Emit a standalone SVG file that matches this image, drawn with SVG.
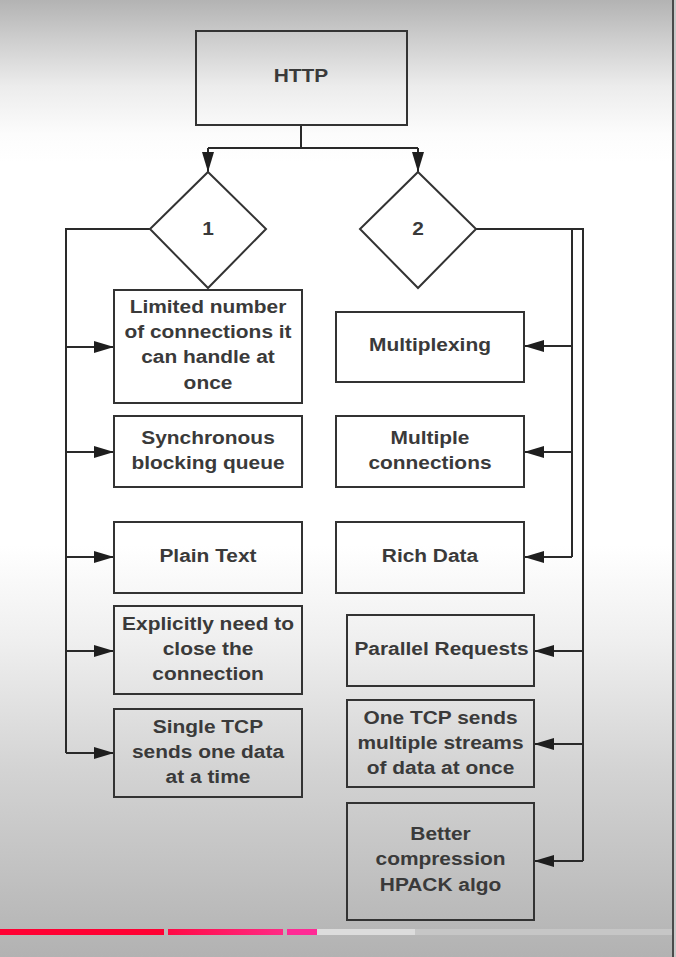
<svg xmlns="http://www.w3.org/2000/svg" width="676" height="957" viewBox="0 0 676 957">
  <defs>
    <linearGradient id="bg" x1="0" y1="0" x2="0" y2="1">
      <stop offset="0" stop-color="#b3b3b3"/>
      <stop offset="0.04" stop-color="#cdcdcd"/>
      <stop offset="0.09" stop-color="#ececec"/>
      <stop offset="0.14" stop-color="#fcfcfc"/>
      <stop offset="0.17" stop-color="#ffffff"/>
      <stop offset="0.57" stop-color="#ffffff"/>
      <stop offset="0.67" stop-color="#efefef"/>
      <stop offset="0.8" stop-color="#d4d4d4"/>
      <stop offset="0.92" stop-color="#c0c0c0"/>
      <stop offset="1" stop-color="#b2b2b2"/>
    </linearGradient>
    <linearGradient id="seg2" x1="0" y1="0" x2="1" y2="0">
      <stop offset="0" stop-color="#ff0a45"/>
      <stop offset="1" stop-color="#ff2a85"/>
    </linearGradient>
    <marker id="arr" markerUnits="userSpaceOnUse" markerWidth="20" markerHeight="12" refX="20" refY="6" orient="auto">
      <path d="M0,0 L20,6 L0,12 Z" fill="#1e1e1e"/>
    </marker>
    <style>
      .box { fill: none; stroke: #333; stroke-width: 2; }
      .ln { fill: none; stroke: #2a2a2a; stroke-width: 2; }
      .t { font-family: "Liberation Sans", Arial, sans-serif; font-weight: bold; font-size: 19px; fill: #3a3a3a; text-anchor: middle; }
    </style>
  </defs>

  <rect x="0" y="0" width="676" height="957" fill="url(#bg)"/>
  <rect x="672" y="0" width="2" height="957" fill="#4a4a4a"/>
  <rect x="674" y="0" width="2" height="957" fill="#c8c8c8"/>

  <!-- progress bar -->
  <rect x="0" y="929" width="164" height="6" fill="#ff0033"/>
  <rect x="168" y="929" width="115" height="6" fill="url(#seg2)"/>
  <rect x="287" y="929" width="30" height="6" fill="#ff2a95"/>
  <rect x="317" y="929" width="98" height="6" fill="#dcdcdc"/>
  <rect x="415" y="929" width="257" height="6" fill="#c6c6c6"/>

  <g id="connectors">
    <path class="ln" d="M301,125 V148"/>
    <path class="ln" d="M208,148 H418"/>
    <path class="ln" d="M208,148 V172" marker-end="url(#arr)"/>
    <path class="ln" d="M418,148 V172" marker-end="url(#arr)"/>
    <path class="ln" d="M150,229 H66 V753"/>
    <path class="ln" d="M66,347 H114" marker-end="url(#arr)"/>
    <path class="ln" d="M66,452 H114" marker-end="url(#arr)"/>
    <path class="ln" d="M66,557 H114" marker-end="url(#arr)"/>
    <path class="ln" d="M66,651 H114" marker-end="url(#arr)"/>
    <path class="ln" d="M66,753 H114" marker-end="url(#arr)"/>
    <path class="ln" d="M476,229 H583 V861"/>
    <path class="ln" d="M572,229 V557"/>
    <path class="ln" d="M572,346 H524" marker-end="url(#arr)"/>
    <path class="ln" d="M572,452 H524" marker-end="url(#arr)"/>
    <path class="ln" d="M572,557 H524" marker-end="url(#arr)"/>
    <path class="ln" d="M583,651 H534" marker-end="url(#arr)"/>
    <path class="ln" d="M583,744 H534" marker-end="url(#arr)"/>
    <path class="ln" d="M583,861 H534" marker-end="url(#arr)"/>
  </g>

  <g id="http"><rect class="box" x="196" y="31" width="211" height="94"/></g>
  <g id="d1"><path class="box" d="M208,172 L266,229 L208,288 L150,229 Z"/></g>
  <g id="d2"><path class="box" d="M418,172 L476,229 L418,288 L360,229 Z"/></g>
  <g id="l1"><rect class="box" x="114" y="290" width="188" height="113"/></g>
  <g id="l2"><rect class="box" x="114" y="416" width="188" height="71"/></g>
  <g id="l3"><rect class="box" x="114" y="522" width="188" height="71"/></g>
  <g id="l4"><rect class="box" x="114" y="606" width="188" height="88"/></g>
  <g id="l5"><rect class="box" x="114" y="709" width="188" height="88"/></g>
  <g id="r1"><rect class="box" x="336" y="312" width="188" height="70"/></g>
  <g id="r2"><rect class="box" x="336" y="416" width="188" height="71"/></g>
  <g id="r3"><rect class="box" x="336" y="522" width="188" height="71"/></g>
  <g id="r4"><rect class="box" x="347" y="615" width="187" height="71"/></g>
  <g id="r5"><rect class="box" x="347" y="700" width="187" height="87"/></g>
  <g id="r6"><rect class="box" x="347" y="803" width="187" height="117"/></g>

  <g id="labels" transform="scale(1.1 1)">
    <text class="t" x="273.6" y="82">HTTP</text>
    <text class="t" x="189.1" y="235">1</text>
    <text class="t" x="380" y="235">2</text>
    <text class="t" x="189.1" y="313">Limited number</text>
    <text class="t" x="189.1" y="338">of connections it</text>
    <text class="t" x="189.1" y="363">can handle at</text>
    <text class="t" x="189.1" y="389">once</text>
    <text class="t" x="189.1" y="444">Synchronous</text>
    <text class="t" x="189.1" y="469">blocking queue</text>
    <text class="t" x="189.1" y="562">Plain Text</text>
    <text class="t" x="189.1" y="630">Explicitly need to</text>
    <text class="t" x="189.1" y="655">close the</text>
    <text class="t" x="189.1" y="680">connection</text>
    <text class="t" x="189.1" y="733">Single TCP</text>
    <text class="t" x="189.1" y="758">sends one data</text>
    <text class="t" x="189.1" y="783">at a time</text>
    <text class="t" x="390.9" y="351">Multiplexing</text>
    <text class="t" x="390.9" y="444">Multiple</text>
    <text class="t" x="390.9" y="469">connections</text>
    <text class="t" x="390.9" y="562">Rich Data</text>
    <text class="t" x="401.4" y="655">Parallel Requests</text>
    <text class="t" x="400.5" y="724">One TCP sends</text>
    <text class="t" x="400.5" y="749">multiple streams</text>
    <text class="t" x="400.5" y="774">of data at once</text>
    <text class="t" x="400.5" y="840">Better</text>
    <text class="t" x="400.5" y="865">compression</text>
    <text class="t" x="400.5" y="891">HPACK algo</text>
  </g>
</svg>
